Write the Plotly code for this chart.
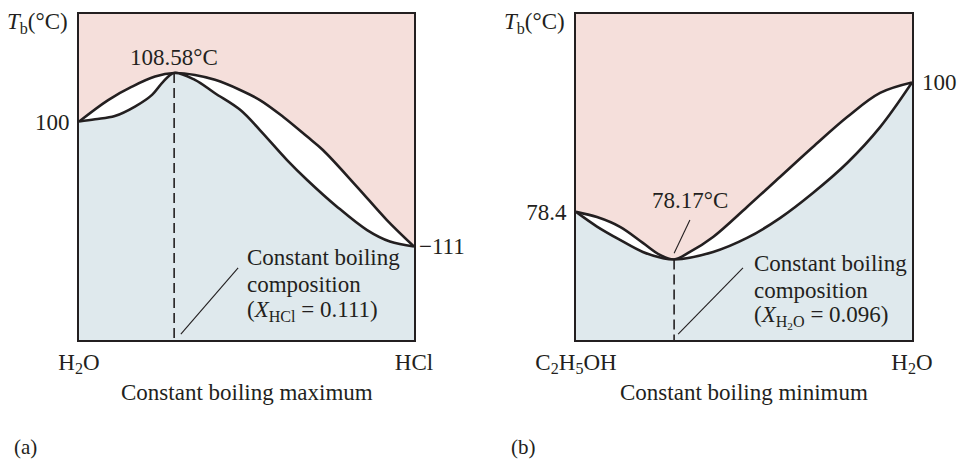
import plotly.graph_objects as go

# panel (a): H2O - HCl, constant boiling maximum
# x = mole-fraction axis (0 = H2O, 1 = HCl), y = relative height of T_b (0..100)
vap_a_x = [0, 0.087, 0.158, 0.227, 0.284, 0.346, 0.406, 0.481, 0.540, 0.609, 0.681, 0.728, 0.830, 0.919, 1.0]
vap_a_y = [67.0, 73.6, 77.7, 80.8, 81.9, 81.3, 79.8, 76.7, 73.6, 68.5, 62.4, 58.3, 47.0, 36.8, 28.7]
liq_a_x = [0, 0.048, 0.107, 0.167, 0.218, 0.251, 0.284, 0.346, 0.406, 0.481, 0.540, 0.621, 0.681, 0.770, 0.860, 0.928, 1.0]
liq_a_y = [67.0, 67.7, 68.7, 71.6, 75.2, 79.2, 81.9, 79.8, 75.7, 70.6, 64.4, 55.2, 49.1, 40.9, 33.7, 30.2, 28.7]
azeo_a = (0.284, 81.9)

# panel (b): C2H5OH - H2O, constant boiling minimum
vap_b_x = [0, 0.0625, 0.131, 0.199, 0.25, 0.292, 0.339, 0.408, 0.509, 0.607, 0.705, 0.807, 0.905, 1.0]
vap_b_y = [39.3, 37.7, 34.7, 29.8, 26.1, 24.7, 27.0, 31.6, 40.8, 50.0, 59.2, 68.4, 75.8, 79.0]
liq_b_x = [0, 0.0625, 0.131, 0.199, 0.259, 0.292, 0.408, 0.509, 0.607, 0.705, 0.807, 0.905, 1.0]
liq_b_y = [39.3, 34.8, 30.7, 27.0, 25.1, 24.7, 27.0, 31.3, 37.4, 45.1, 54.3, 65.3, 79.0]
azeo_b = (0.292, 24.7)

note_a = ['Constant boiling', 'composition', '(<i>X</i><sub>HCl</sub> = 0.111)']
note_b = ['Constant boiling', 'composition', '(<i>X</i><sub>H<sub>2</sub>O</sub> = 0.096)']

ink = '#231f20'
pink = '#f5dfdb'
blue = '#dfe9ed'
FONT = 'Liberation Serif'
FS = 23

W, H = 961, 467
def px(p):
    return p / W
def py(p):
    return (H - p) / H

fig = go.Figure()

def add_panel(xa, ya, vx, vy, lx, ly, azeo, lead):
    # white gap between curves, blue liquid region below
    fig.add_trace(go.Scatter(x=vx, y=vy, xaxis=xa, yaxis=ya, mode='lines',
                             line=dict(color=ink, width=2.6, shape='spline', smoothing=1),
                             fill='tozeroy', fillcolor='white', hoverinfo='skip'))
    fig.add_trace(go.Scatter(x=lx, y=ly, xaxis=xa, yaxis=ya, mode='lines',
                             line=dict(color=ink, width=2.6, shape='spline', smoothing=1),
                             fill='tozeroy', fillcolor=blue, hoverinfo='skip'))
    # dashed composition line
    fig.add_trace(go.Scatter(x=[azeo[0], azeo[0]], y=[azeo[1], 0], xaxis=xa, yaxis=ya,
                             mode='lines', line=dict(color=ink, width=1.6, dash='10px,5px'),
                             hoverinfo='skip'))
    # leader line to text
    fig.add_trace(go.Scatter(x=lead[0], y=lead[1], xaxis=xa, yaxis=ya, mode='lines',
                             line=dict(color=ink, width=1.1), hoverinfo='skip'))

add_panel('x', 'y', vap_a_x, vap_a_y, liq_a_x, liq_a_y, azeo_a, ([0.304, 0.475], [1.8, 22.1]))
add_panel('x2', 'y2', vap_b_x, vap_b_y, liq_b_x, liq_b_y, azeo_b, ([0.304, 0.497], [1.8, 22.1]))
# leader for 78.17 label
fig.add_trace(go.Scatter(x=[0.339, 0.292], y=[36.8, 26.6], xaxis='x2', yaxis='y2', mode='lines',
                         line=dict(color=ink, width=1.1), hoverinfo='skip'))

ydom = [py(340), py(14)]
axis_common = dict(showgrid=False, zeroline=False, showline=True, mirror=True,
                   linecolor=ink, linewidth=2, ticks='', fixedrange=True, automargin=False,
                   tickfont=dict(family=FONT, size=FS, color=ink))

fig.update_layout(
    width=W, height=H,
    margin=dict(l=0, r=0, t=0, b=0, autoexpand=False),
    paper_bgcolor='white', plot_bgcolor=pink,
    showlegend=False,
    font=dict(family=FONT, size=FS, color=ink),
    xaxis=dict(axis_common, domain=[px(79), px(414)], range=[0, 1],
               tickvals=[0, 1], ticktext=['H<sub>2</sub>O', 'HCl'], anchor='y'),
    yaxis=dict(axis_common, domain=ydom, range=[0, 100], ticklabelstandoff=3,
               tickvals=[liq_a_y[0]], ticktext=['100'], anchor='x'),
    xaxis2=dict(axis_common, domain=[px(576), px(912)], range=[0, 1],
                tickvals=[0, 1], ticktext=['C<sub>2</sub>H<sub>5</sub>OH', 'H<sub>2</sub>O'], anchor='y2'),
    yaxis2=dict(axis_common, domain=ydom, range=[0, 100], ticklabelstandoff=3,
                tickvals=[liq_b_y[0]], ticktext=['78.4'], anchor='x2'),
)

ann = []
def txt(text, x, y, xref, yref, **kw):
    d = dict(text=text, x=x, y=y, xref=xref, yref=yref, showarrow=False,
             font=dict(family=FONT, size=FS, color=ink))
    d.update(kw)
    ann.append(d)

for xr, yr in [('x', 'y'), ('x2', 'y2')]:
    txt('<i>T</i><sub>b</sub>(°C)', 0, 1, xr + ' domain', yr + ' domain',
        xanchor='right', yanchor='middle', xshift=-9, yshift=-9)

txt('108.58°C', azeo_a[0], azeo_a[1], 'x', 'y', yanchor='bottom', yshift=1)
txt('\u2212111', 1, vap_a_y[-1], 'x', 'y', xanchor='left', xshift=3)
for line, yv in zip(note_a, [25.2, 16.9, 8.9]):
    txt(line, 0.496, yv, 'x', 'y', xanchor='left', yanchor='middle')

txt('78.17°C', 0.339, 42.9, 'x2', 'y2')
txt('100', 1, vap_b_y[-1], 'x2', 'y2', xanchor='left', xshift=8)
for line, yv in zip(note_b, [23.6, 15.3, 7.1]):
    txt(line, 0.524, yv, 'x2', 'y2', xanchor='left', yanchor='middle')

txt('Constant boiling maximum', 0.5, py(392), 'x domain', 'paper', yanchor='middle')
txt('Constant boiling minimum', 0.5, py(392), 'x2 domain', 'paper', yanchor='middle')
txt('(a)', px(12), py(447), 'paper', 'paper', xanchor='left', yanchor='middle', font=dict(family=FONT, size=21, color=ink))
txt('(b)', px(509), py(447), 'paper', 'paper', xanchor='left', yanchor='middle', font=dict(family=FONT, size=21, color=ink))

fig.update_layout(annotations=ann)
# drop the default 8px page margin so the 961x467 figure fills the window
fig.write_html("out.html", config={'displayModeBar': False},
               post_script="document.body.style.margin='0';document.body.style.overflow='hidden';")
